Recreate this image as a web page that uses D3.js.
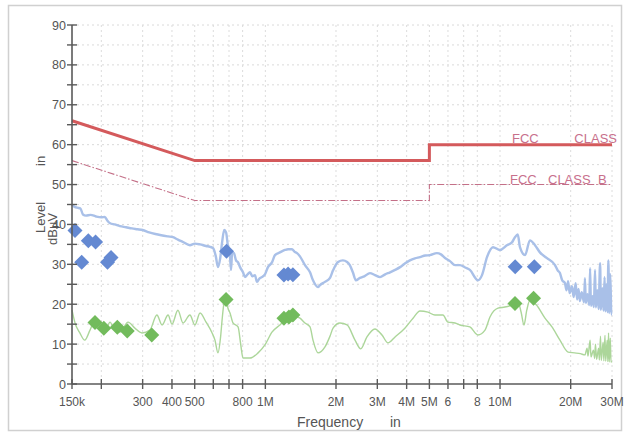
<!DOCTYPE html>
<html><head><meta charset="utf-8">
<script src="https://cdnjs.cloudflare.com/ajax/libs/d3/7.8.5/d3.min.js"></script>
<style>body{margin:0;background:#fff}svg{display:block;font-family:"Liberation Sans",Arial,sans-serif}</style>
</head><body><svg id="c" width="629" height="432"></svg>
<script>
// ---- data ----
const xTicks = [0.15,0.2,0.3,0.4,0.5,0.6,0.7,0.8,1,2,3,4,5,6,7,8,10,20,30];
const xTickLabels = ["150k","","300","400","500","","","800","1M","2M","3M","4M","5M","6","","8","10M","20M","30M"];
const yTicks = [0,10,20,30,40,50,60,70,80,90];
const yMinorTicks = [5,15,25,35,45,55,65,75,85];

const limitQpFreq = [0.15,0.5,5,5,30];
const limitQpLevel = [66,56,56,60,60];
const limitAvFreq = [0.15,0.5,5,5,30];
const limitAvLevel = [56,46,46,50,50];

const peakFreq = [0.150,0.153,0.158,0.163,0.167,0.172,0.180,0.190,0.200,0.207,0.212,0.218,0.228,0.240,0.255,0.270,0.285,0.300,0.320,0.340,0.360,0.385,0.404,0.424,0.446,0.477,0.501,0.527,0.559,0.581,0.600,0.615,0.628,0.642,0.654,0.668,0.680,0.693,0.707,0.714,0.722,0.735,0.750,0.765,0.780,0.803,0.819,0.840,0.860,0.880,0.903,0.921,0.945,0.968,0.996,1.026,1.067,1.099,1.154,1.212,1.250,1.299,1.330,1.364,1.404,1.475,1.55,1.596,1.676,1.709,1.795,1.886,1.943,2.04,2.14,2.23,2.29,2.36,2.43,2.53,2.64,2.79,2.93,3.08,3.24,3.40,3.57,3.75,3.93,4.13,4.34,4.56,4.80,5.03,5.38,5.60,5.83,6.12,6.43,6.75,7.10,7.44,8.05,8.38,8.80,9.33,9.99,10.7,11.24,11.58,11.9,12.16,12.78,13.41,14.09,14.79,15.8,17.15,17.6,18.0,18.4,18.9,19.2,19.5,19.8,20.25,20.6,21.0,21.3,21.6,21.9,22.3,22.8,23.0,23.2,23.6,24.0,24.2,24.4,24.8,25.1,25.4,25.6,26.0,26.3,26.7,26.9,27.3,27.6,27.9,28.1,28.4,28.7,28.95,29.2,29.5,29.8,30.0];
const peakLevel = [45.0,44.5,44.2,44.0,42.5,42.2,42.4,42.0,41.8,41.9,41.0,40.3,40.0,39.6,39.3,39.0,38.8,38.6,38.0,37.6,37.3,37.0,36.8,36.2,35.6,34.8,35.2,35.0,34.6,34.4,34.0,32.0,29.3,31.5,35.5,38.6,38.0,34.5,32.0,28.6,33.0,32.8,31.0,30.5,29.3,28.0,26.8,27.5,28.0,27.0,27.3,25.6,26.5,26.8,27.5,29.3,30.5,32.3,33.0,33.6,33.8,33.8,33.2,32.8,32.0,29.8,28.0,26.0,24.3,24.8,25.6,26.6,28.5,30.6,31.0,30.6,29.8,28.0,26.0,26.6,27.0,27.8,27.3,26.8,27.5,28.0,28.6,29.3,30.2,31.0,31.5,31.8,32.2,32.3,32.8,32.5,31.6,30.8,29.8,29.8,29.2,28.6,26.0,27.3,31.8,34.3,33.6,34.8,35.5,36.8,37.5,34.3,32.3,36.0,34.8,33.0,31.6,29.8,28.5,27.8,26.0,25.3,23.5,25.8,22.8,24.5,21.8,25.3,21.2,23.8,20.8,23.0,20.5,26.5,20.3,22.5,19.8,29.0,19.6,22.0,19.3,28.6,19.2,23.5,18.8,30.3,18.6,24.0,18.4,26.8,18.2,25.0,18.0,31.0,17.8,27.5,17.5,17.5];

const avgFreq = [0.150,0.1545,0.162,0.170,0.179,0.188,0.197,0.207,0.218,0.224,0.240,0.260,0.278,0.298,0.322,0.345,0.363,0.385,0.400,0.424,0.446,0.477,0.501,0.527,0.559,0.593,0.610,0.628,0.645,0.654,0.668,0.680,0.693,0.707,0.728,0.765,0.785,0.803,0.860,0.931,0.996,1.067,1.154,1.273,1.330,1.404,1.475,1.55,1.596,1.676,1.795,1.886,1.943,2.08,2.23,2.41,2.55,2.71,2.93,3.14,3.33,3.57,3.93,4.26,4.56,4.93,5.28,5.71,6.0,6.43,6.75,7.44,8.05,8.63,9.06,9.80,10.49,11.24,11.93,12.3,12.65,13.0,13.41,14.3,15.54,16.65,18.0,19.5,20.8,22.0,23.0,23.5,23.7,24.2,24.4,25.0,25.3,25.5,25.8,26.3,26.5,26.8,27.0,27.5,27.7,28.0,28.2,28.6,28.8,29.0,29.2,29.5,29.7,30.0];
const avgLevel = [18.5,15.3,12.8,11.0,13.5,16.0,14.8,13.0,15.5,14.3,13.0,15.5,14.0,12.8,13.5,17.3,14.8,17.3,15.0,18.5,15.3,17.3,14.8,17.8,15.5,12.8,11.0,7.8,12.0,16.0,20.5,21.0,19.0,17.8,15.3,14.3,10.0,6.5,6.5,7.8,9.8,13.0,14.8,16.8,17.0,16.5,15.3,14.3,11.0,7.8,9.3,12.0,14.0,15.3,14.8,11.0,8.8,11.8,13.8,12.3,10.3,11.8,14.0,16.5,18.3,18.0,17.3,17.3,15.5,15.3,14.8,14.3,12.3,13.5,16.8,19.0,19.3,19.8,20.5,18.0,14.8,18.5,21.0,19.8,16.5,14.3,11.0,8.0,7.8,7.6,7.3,9.0,7.0,11.0,6.8,8.5,6.4,10.0,6.2,9.0,6.0,12.0,5.9,10.5,5.8,12.2,5.7,11.0,5.6,12.8,5.5,11.5,5.5,5.6];

const qpFreq = [0.1545,0.165,0.176,0.189,0.2125,0.220,0.683,1.20,1.25,1.31,11.6,14.0];
const qpLevel = [38.5,30.5,35.9,35.6,30.5,31.7,33.3,27.3,27.6,27.4,29.4,29.4];
const avFreq = [0.188,0.205,0.234,0.258,0.328,0.68,1.20,1.26,1.31,11.58,13.9];
const avLevel = [15.4,14.0,14.2,13.3,12.3,21.2,16.5,16.8,17.3,20.2,21.5];

// ---- chart ----
const svg = d3.select("#c");
const x = d3.scaleLog().domain([0.15,30]).range([72,612]);
const y = d3.scaleLinear().domain([0,90]).range([384,25]);

svg.append("rect").attr("x",8.5).attr("y",5.5).attr("width",613).attr("height",425)
  .attr("fill","none").attr("stroke","#d0d0d0").attr("stroke-width",1.5);

// grid
const g = svg.append("g");
g.selectAll(".hg").data(yTicks.concat(yMinorTicks).filter(d=>d>0)).join("line")
  .attr("x1",72).attr("x2",612).attr("y1",d=>y(d)).attr("y2",d=>y(d))
  .attr("stroke","#dadada").attr("stroke-dasharray","2,3");
g.selectAll(".vg").data(xTicks.slice(1)).join("line")
  .attr("x1",d=>x(d)).attr("x2",d=>x(d)).attr("y1",y(90)).attr("y2",y(0))
  .attr("stroke","#dcdcdc").attr("stroke-dasharray","2,3");

// limits
const lineGen = d3.line().x(d=>x(d[0])).y(d=>y(d[1]));
const smooth = d3.line().x(d=>x(d[0])).y(d=>y(d[1])).curve(d3.curveMonotoneX);
svg.append("path").datum(d3.zip(limitAvFreq,limitAvLevel)).attr("d",lineGen)
  .attr("fill","none").attr("stroke","#c47088").attr("stroke-width",1.1).attr("stroke-dasharray","7,2,1.5,2");
svg.append("path").datum(d3.zip(limitQpFreq,limitQpLevel)).attr("d",lineGen)
  .attr("fill","none").attr("stroke","#d45a5c").attr("stroke-width",3);

// traces
svg.append("path").datum(d3.zip(peakFreq,peakLevel)).attr("d",smooth)
  .attr("fill","none").attr("stroke","#a9c0e8").attr("stroke-width",2.4).attr("stroke-linejoin","round");
svg.append("path").datum(d3.zip(avgFreq,avgLevel)).attr("d",smooth)
  .attr("fill","none").attr("stroke","#acd69a").attr("stroke-width",1.4).attr("stroke-linejoin","round");

// markers
const diamond = (cx,cy,r)=>`M${cx},${cy-r}L${cx+r},${cy}L${cx},${cy+r}L${cx-r},${cy}Z`;
svg.selectAll(".qp").data(d3.zip(qpFreq,qpLevel)).join("path")
  .attr("d",d=>diamond(x(d[0]),y(d[1]),7.5)).attr("fill","#6489d2");
svg.selectAll(".av").data(d3.zip(avFreq,avLevel)).join("path")
  .attr("d",d=>diamond(x(d[0]),y(d[1]),7.5)).attr("fill","#72bb5c");

// axes
const axc = "#5a5a5a";
svg.append("line").attr("x1",72).attr("x2",72).attr("y1",y(90)).attr("y2",y(0)).attr("stroke",axc).attr("stroke-width",1.6);
svg.append("line").attr("x1",72).attr("x2",612).attr("y1",y(0)).attr("y2",y(0)).attr("stroke",axc).attr("stroke-width",1.6);
svg.selectAll(".yt").data(yTicks.concat(yMinorTicks)).join("line")
  .attr("x1",67).attr("x2",77).attr("y1",d=>y(d)).attr("y2",d=>y(d)).attr("stroke",axc).attr("stroke-width",1.4);
svg.selectAll(".xt").data(xTicks).join("line")
  .attr("x1",d=>x(d)).attr("x2",d=>x(d)).attr("y1",y(0)-5).attr("y2",y(0)+5).attr("stroke",axc).attr("stroke-width",1.4);
svg.selectAll(".yl").data(yTicks).join("text")
  .attr("x",66).attr("y",d=>y(d)+4.5).attr("text-anchor","end").attr("font-size",12.5).attr("fill","#555").text(d=>d);
svg.selectAll(".xl").data(d3.zip(xTicks,xTickLabels)).join("text")
  .attr("x",d=>x(d[0])).attr("y",406).attr("text-anchor","middle").attr("font-size",12).attr("fill","#555").text(d=>d[1]);

// axis titles
svg.append("text").attr("x",297).attr("y",427).attr("font-size",14).attr("fill","#555").text("Frequency");
svg.append("text").attr("x",390).attr("y",427).attr("font-size",14).attr("fill","#555").text("in");
svg.append("text").attr("transform","translate(45,233) rotate(-90)").attr("font-size",13).attr("fill","#555").text("Level");
svg.append("text").attr("transform","translate(45,166) rotate(-90)").attr("font-size",13).attr("fill","#555").text("in");
svg.append("text").attr("transform","translate(57,245) rotate(-90)").attr("font-size",13).attr("fill","#555").text("dBµV");

// limit labels
const lc = "#c8708c";
svg.append("text").attr("x",512).attr("y",y(60)-2).attr("font-size",13).attr("fill",lc).text("FCC");
svg.append("text").attr("x",617).attr("y",y(60)-2).attr("text-anchor","end").attr("font-size",13).attr("fill",lc).text("CLASS");
svg.append("text").attr("x",510).attr("y",y(50)-1).attr("font-size",13).attr("fill",lc).text("FCC");
svg.append("text").attr("x",548).attr("y",y(50)-1).attr("font-size",13).attr("fill",lc).text("CLASS");
svg.append("text").attr("x",598).attr("y",y(50)-1).attr("font-size",13).attr("fill",lc).text("B");
</script></body></html>
